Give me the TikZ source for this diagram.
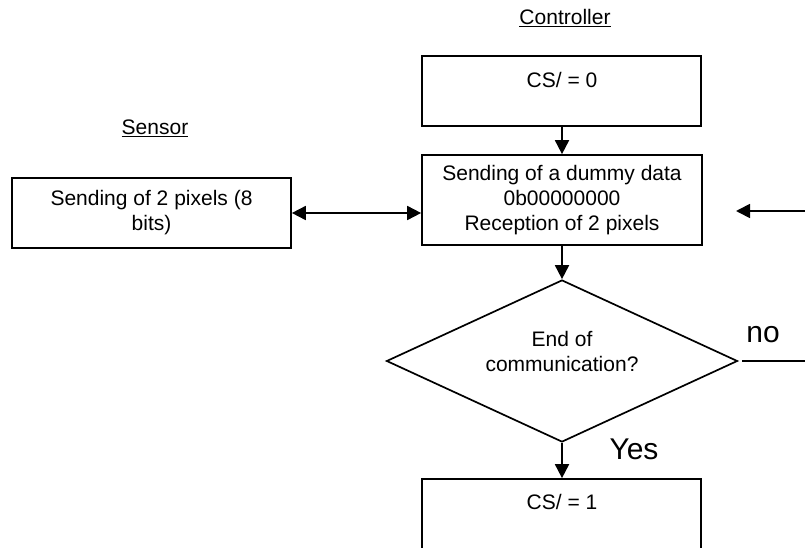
\documentclass[tikz,border=0pt]{standalone}
\usepackage{fontspec}
\setmainfont{Liberation Sans}
\usetikzlibrary{shapes.geometric,arrows.meta,calc}
\tikzset{
  base/.style={font=\fontsize{21}{25}\selectfont},
  box/.style={base,draw,line width=1.7pt,rectangle,inner sep=0pt,align=center},
  thickbox/.style={box,line width=2.2pt},
  decision/.style={draw,line width=1.7pt,diamond,aspect=2.17,inner sep=0pt,minimum width=351pt,minimum height=162pt},
  txt/.style={base,inner sep=0pt,align=center},
  big/.style={font=\fontsize{30}{34}\selectfont,inner sep=0pt},
  conn/.style={line width=1.8pt},
  arr/.style={conn,-{Triangle[length=14pt,width=14pt]}},
  darr/.style={conn,{Triangle[length=14pt,width=14pt]}-{Triangle[length=14pt,width=14pt]}},
}
\begin{document}
\begin{tikzpicture}[x=1pt,y=-1pt]
\useasboundingbox (0,0) rectangle (805,548);
\clip (0,0) rectangle (805,548);
\fill[white] (0,0) rectangle (805,548);

% labels
\node[txt] (ctrl) at (565,18) {\underline{Controller}};
\node[txt] (sens) at (155,128) {\underline{Sensor}};

% top box
\node[thickbox,minimum width=279pt,minimum height=70pt] (top) at (561.5,91) {};
\node[txt] (toptxt) at (562,80) {CS/ = 0};

% middle box
\node[box,minimum width=280pt,minimum height=90pt] (mid) at (562,200)
  {Sending of a dummy data\\0b00000000\\Reception of 2 pixels};

% sensor box
\node[box,minimum width=279pt,minimum height=70pt] (sensor) at (151.5,213)
  {Sending of 2 pixels (8\\bits)};

% decision
\node[decision] (dia) at (562,361) {};
\node[txt] (diatxt) at (562,351) {End of\\communication?};

% bottom box
\node[box,minimum width=279pt,minimum height=90pt] (bot) at (561.5,524) {};
\node[txt] (bottxt) at (562,502) {CS/ = 1};

% branch labels
\node[big] (no) at (763,335) {no};
\node[big] (yes) at (634,449) {Yes};

% free-end coordinates
\coordinate (rin) at (805,211);
\coordinate (rtip) at (736,211);
\coordinate (nout) at (805,361);

% connectors
\draw[arr] (top.south -| mid.north) -- (mid.north);
\draw[arr] (mid.south) -- (dia.north);
\draw[arr] (dia.south) -- (dia.south |- bot.north);
\draw[darr] (sensor.east) -- (sensor.east -| mid.west);
\draw[arr] (rin) -- (rtip);
\draw[conn] ([xshift=4pt]dia.east) -- (dia.east -| nout);
\end{tikzpicture}
\end{document}
